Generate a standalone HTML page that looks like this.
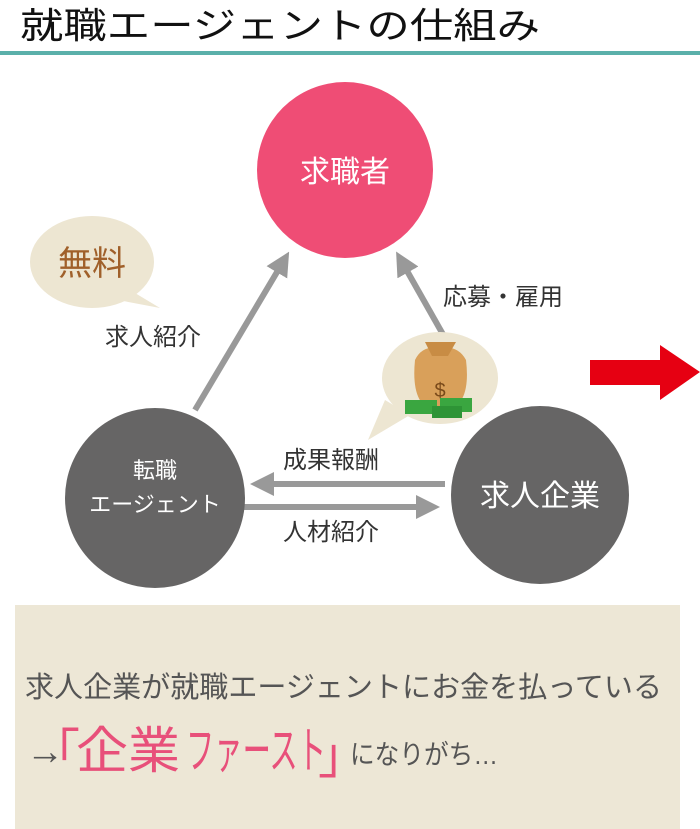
<!DOCTYPE html>
<html><head><meta charset="utf-8"><style>
html,body{margin:0;padding:0;background:#fff;width:700px;height:829px;overflow:hidden}
text{font-family:"Liberation Sans","Noto Sans CJK JP",sans-serif}
</style></head><body>
<svg width="700" height="829" viewBox="0 0 700 829" xmlns="http://www.w3.org/2000/svg">
<text x="20" y="38" font-size="36" fill="#111" textLength="520" lengthAdjust="spacingAndGlyphs">就職エージェントの仕組み</text>
<rect x="0" y="51" width="700" height="4" fill="#5bb0aa"/>
<defs><marker id="ah" markerWidth="4" markerHeight="4" refX="2" refY="2" orient="auto" markerUnits="strokeWidth"><path d="M0,0 L4,2 L0,4 Z" fill="#999"/></marker></defs>
<g stroke="#999" stroke-width="6" fill="none">
<line x1="195" y1="410" x2="283" y2="262" marker-end="url(#ah)"/>
<line x1="445" y1="338" x2="402" y2="262" marker-end="url(#ah)"/>
<line x1="445" y1="484" x2="262" y2="484" marker-end="url(#ah)"/>
<line x1="242" y1="507" x2="428" y2="507" marker-end="url(#ah)"/>
</g>
<circle cx="345" cy="170" r="88" fill="#ef4d75"/>
<text x="345" y="182" font-size="30" fill="#fff" text-anchor="middle">求職者</text>
<circle cx="155" cy="498" r="90" fill="#666565"/>
<text x="155" y="478" font-size="22" fill="#fff" text-anchor="middle">転職</text>
<text x="155" y="512" font-size="22" fill="#fff" text-anchor="middle">エージェント</text>
<circle cx="540" cy="495" r="89" fill="#666565"/>
<text x="540" y="506" font-size="30" fill="#fff" text-anchor="middle">求人企業</text>
<ellipse cx="92" cy="262" rx="62" ry="46" fill="#ede6d2"/>
<path d="M130,290 L160,308 L118,300 Z" fill="#ede6d2"/>
<text x="92" y="275" font-size="34" fill="#a0602a" text-anchor="middle">無料</text>
<text x="105" y="345" font-size="24" fill="#333">求人紹介</text>
<text x="443" y="305" font-size="24" fill="#333">応募・雇用</text>
<text x="283" y="468" font-size="24" fill="#333">成果報酬</text>
<text x="283" y="540" font-size="24" fill="#333">人材紹介</text>
<ellipse cx="440" cy="378" rx="58" ry="46" fill="#ede6d2"/>
<path d="M385,400 L368,440 L410,415 Z" fill="#ede6d2"/>
<path d="M415,360 Q410,410 440,412 Q472,410 466,360 Q458,345 440,348 Q422,345 415,360 Z" fill="#d9a05a"/>
<path d="M425,342 L456,342 L448,356 L432,356 Z" fill="#c88c44"/>
<text x="440" y="397" font-size="20" fill="#7a4a1a" text-anchor="middle">$</text>
<rect x="405" y="400" width="32" height="14" fill="#3aa640"/>
<rect x="440" y="398" width="32" height="14" fill="#3aa640"/>
<rect x="432" y="406" width="30" height="12" fill="#2e9436"/>
<path d="M590,360 L660,360 L660,345 L700,372 L660,400 L660,385 L590,385 Z" fill="#e60012"/>
<rect x="15" y="605" width="665" height="224" fill="#ede7d6"/>
<text x="25" y="697" font-size="29" fill="#555" textLength="637" lengthAdjust="spacingAndGlyphs">求人企業が就職エージェントにお金を払っている</text>
<text x="26" y="764" font-size="38" fill="#555">→</text>
<text x="30" y="770" font-size="50" fill="#e8507a">「</text>
<text x="76" y="768" font-size="50" fill="#e8507a" textLength="104" lengthAdjust="spacingAndGlyphs">企業</text>
<text x="186" y="768" font-size="50" fill="#e8507a" textLength="140" lengthAdjust="spacingAndGlyphs">ファースト</text>
<text x="318" y="773" font-size="50" fill="#e8507a">」</text>
<text x="350" y="764" font-size="27" fill="#555" textLength="148" lengthAdjust="spacingAndGlyphs">になりがち…</text>
</svg>
</body></html>
